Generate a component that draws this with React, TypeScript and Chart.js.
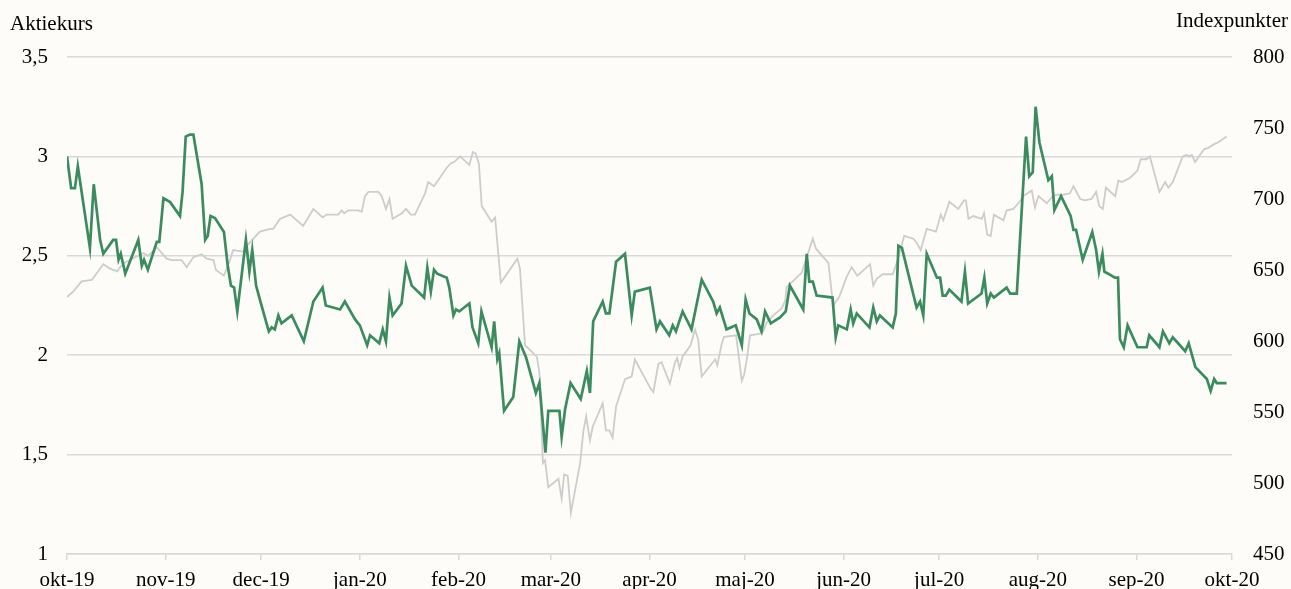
import React, { useEffect, useRef } from "react";
import { Chart, registerables } from "chart.js";

Chart.register(...registerables);

// x values: days since 1 Oct 2019
const monthTickDays = [0, 31, 61, 92, 123, 152, 183, 213, 244, 274, 305, 336, 366];
const monthTickLabels = [
  "okt-19", "nov-19", "dec-19", "jan-20", "feb-20", "mar-20", "apr-20",
  "maj-20", "jun-20", "jul-20", "aug-20", "sep-20", "okt-20",
];

const stockDays = [
  0, 1.3, 2.5, 3.4, 7.2, 8.4, 10.4, 11.4, 14.5, 15.4, 16.2, 16.9, 18.3, 22.4, 23.5, 24.2, 25.4, 28.2, 29,
  30.3, 32.4, 35.5, 36.3, 37.3, 38.6, 39.7, 42.3, 43.4, 44.2, 45.1, 46.5, 49.3, 50.5, 51.5, 52.5, 53.5,
  56.2, 57.3, 58.2, 59.4, 60.6, 63.4, 64.3, 65.3, 66.4, 67.4, 70.6, 74.4, 77.4, 80.3, 81.3, 85.8, 87.3,
  90.5, 92, 94.3, 95.2, 98.1, 99.2, 100.2, 101.3, 102.3, 105.1, 106.5, 108.3, 112.2, 113.2, 114.3, 115.3,
  116.3, 119.3, 120.1, 121.4, 122.2, 123.2, 126.4, 127.4, 129.2, 130.2, 133.4, 134.2, 135.2, 135.8, 137.3,
  140.2, 142.1, 144.2, 147.3, 148.4, 150.3, 151.2, 154.7, 155.4, 156.5, 158.2, 161.4, 163.3, 164.3, 165.3,
  168.3, 169.3, 170.4, 172.5, 175.3, 177.4, 178.4, 183.1, 185.2, 186.3, 189.2, 190.3, 191.3, 193.4, 196.2,
  199.4, 203, 204.1, 205.1, 207.2, 210.1, 212, 213.2, 214.4, 216.7, 218.2, 219.3, 221.1, 224, 225.8, 227.1,
  231.3, 232.4, 233.2, 234.3, 235.5, 240.5, 241.5, 242.3, 245, 246.2, 247, 248.1, 252.1, 253.3, 254.4,
  255.4, 259.4, 260.4, 261.2, 262.3, 266.9, 268, 269, 270.1, 273.3, 274.3, 275.1, 276.1, 277.2, 281, 282.1,
  283.1, 287.3, 288.2, 289.1, 290.2, 291.2, 295.2, 296.3, 298.4, 301.3, 302.3, 303.4, 304.3, 305.5, 308.3,
  309.4, 310.2, 312.3, 315.3, 316.2, 317, 319.1, 322.1, 323.3, 324.2, 325.3, 325.9, 327.1, 329.2, 330.2,
  330.8, 332, 333.2, 336.3, 339.2, 340, 343.2, 344.3, 346.3, 347.4, 351.3, 352.4, 354.5, 358.1, 359.3,
  360.4, 361.2, 364.3,
];
const stockPrice = [
  3.0, 2.84, 2.84, 2.95, 2.54, 2.86, 2.58, 2.51, 2.58, 2.58, 2.48, 2.51, 2.41, 2.58, 2.45, 2.48, 2.43, 2.57, 2.57,
  2.79, 2.77, 2.7, 2.82, 3.1, 3.11, 3.11, 2.86, 2.58, 2.6, 2.7, 2.69, 2.62, 2.45, 2.35, 2.34, 2.22,
  2.58, 2.42, 2.53, 2.35, 2.28, 2.12, 2.14, 2.13, 2.2, 2.16, 2.2, 2.07, 2.27, 2.34, 2.25, 2.23, 2.27,
  2.18, 2.15, 2.05, 2.1, 2.06, 2.13, 2.07, 2.29, 2.2, 2.26, 2.45, 2.35, 2.29, 2.44, 2.32, 2.43,
  2.41, 2.39, 2.34, 2.2, 2.23, 2.22, 2.26, 2.14, 2.06, 2.22, 2.04, 2.17, 1.98, 2.01, 1.72,
  1.79, 2.07, 1.99, 1.81, 1.86, 1.51, 1.72, 1.72, 1.59, 1.73, 1.86, 1.78, 1.92, 1.81, 2.17,
  2.27, 2.21, 2.21, 2.47, 2.51, 2.2, 2.32, 2.34, 2.13, 2.17, 2.1, 2.15, 2.12, 2.22, 2.13,
  2.38, 2.27, 2.21, 2.24, 2.13, 2.15, 2.05, 2.28, 2.21, 2.18, 2.12, 2.22, 2.16, 2.19, 2.22, 2.35,
  2.23, 2.51, 2.37, 2.37, 2.3, 2.29, 2.09, 2.15, 2.13, 2.23, 2.16, 2.21, 2.14, 2.24, 2.17,
  2.2, 2.14, 2.21, 2.55, 2.54, 2.24, 2.27, 2.2, 2.51, 2.39, 2.39, 2.3, 2.3, 2.33, 2.27, 2.42,
  2.26, 2.31, 2.39, 2.26, 2.31, 2.29, 2.34, 2.31, 2.31, 3.1, 2.9, 2.92, 3.25, 3.07, 2.88,
  2.9, 2.73, 2.8, 2.7, 2.63, 2.63, 2.48, 2.62, 2.53, 2.42, 2.51, 2.42, 2.41, 2.39, 2.39,
  2.08, 2.04, 2.15, 2.04, 2.04, 2.1, 2.04, 2.12, 2.06, 2.09, 2.02, 2.06, 1.94, 1.88, 1.82,
  1.88, 1.86, 1.86,
];

const indexDays = [
  0, 2, 4.6, 7.8, 11.4, 13.5, 15.8, 16.7, 18, 24, 25.5, 28.2, 31.3, 32.9, 36, 37.6, 39.7, 42.3, 43.9, 46,
  46.8, 49.3, 51.2, 52.2, 55.4, 56.5, 60.6, 63.8, 64.8, 66.9, 70.1, 74.2, 77.4, 80.3, 81.6, 85.2, 86.3,
  87.1, 88.4, 91.5, 92.6, 93.6, 94.7, 97.8, 98.9, 100.2, 101.3, 102.3, 105.2, 106.5, 108, 109.3, 112.5,
  113.5, 115.3, 119.3, 120.5, 121.6, 123.5, 126.4, 127.5, 128.4, 129.4, 130.3, 133.4, 134.5, 136.3, 141.5,
  142.3, 143.9, 147.6, 148.4, 149.5, 150.2, 151.2, 154.4, 155.4, 156.2, 157.3, 158.3, 161.2, 162.2, 163.1,
  164.3, 165.2, 168.3, 169.3, 170.4, 171.4, 172.5, 175.3, 176.3, 177.4, 178.4, 183.2, 184.2, 185.8, 186.8,
  189.4, 191, 191.7, 192.4, 193.4, 195.9, 197.3, 198.3, 199.4, 203.6, 204.3, 205.7, 206.4, 210.2, 212,
  212.7, 213.5, 214.6, 217.5, 218.8, 219.8, 221.9, 224.5, 225.6, 226.1, 230.8, 234.3, 235.3, 239.2, 240.7,
  242.6, 244.9, 246.5, 248.3, 252.3, 253.3, 254.4, 256.3, 259.4, 260.7, 263, 265.9, 267, 268.2, 270.1,
  273, 274.5, 275.3, 277.2, 280, 281.8, 282.4, 283.2, 284.7, 287.4, 288.1, 289.1, 290.2, 291.2, 294.2,
  295.2, 297.3, 298.9, 300.4, 303.1, 304.1, 305.2, 307.8, 309.7, 310.9, 313, 315.1, 316.2, 318.3, 319.8,
  321.9, 323.3, 324.3, 325.4, 326.4, 329.3, 330.3, 331.4, 334, 336.3, 337.3, 339.2, 340.2, 343.2, 345,
  346, 347.4, 350.5, 351.6, 352.6, 353.4, 354.4, 357.2, 358.5, 360.7, 361.7, 364.3,
];
const indexPoints = [
  631, 635, 642, 643, 654, 651, 649, 652, 655, 662, 660, 666, 658, 657, 657, 652, 659, 661, 658, 657,
  650, 646, 657, 664, 663, 667, 677, 679, 679, 686, 689, 681, 693, 687, 689, 689, 692,
  690, 692, 692, 691, 702, 705, 705, 702, 693, 700, 686, 690, 693, 689, 689, 704,
  712, 709, 722, 725, 726, 730, 724, 733, 732, 725, 695, 684, 687, 641, 658,
  651, 597, 589, 578, 514, 516, 497, 503, 489, 506, 505, 479, 514, 536, 547,
  530, 540, 556, 537, 537, 532, 554, 573, 574, 575, 587, 567, 564, 584, 585,
  570, 585, 588, 581, 589, 597, 608, 601, 575, 587, 583, 598, 603, 604, 572,
  576, 586, 604, 605, 607, 613, 618, 623, 628, 638, 648, 672, 665, 655, 625,
  631, 645, 652, 646, 654, 639, 644, 647, 647, 655, 674, 672, 669, 664, 679,
  677, 689, 685, 698, 693, 699, 699, 686, 688, 686, 690, 675, 674, 689, 685,
  692, 693, 697, 702, 706, 694, 702, 697, 702, 703, 703, 704, 709, 700, 699,
  700, 705, 695, 693, 708, 702, 713, 712, 715, 720, 728, 728, 730, 705, 712,
  708, 712, 730, 731, 730, 731, 726, 735, 736, 739, 740, 744,
];

const FONT_FAMILY = "'Liberation Serif', 'Times New Roman', Times, serif";
const BG = "#fdfcf8";
const GRID = "#d9d9d9";

export default function App() {
  const canvasRef = useRef<HTMLCanvasElement | null>(null);

  useEffect(() => {
    document.body.style.margin = "0";
    document.body.style.background = BG;
    const canvas = canvasRef.current;
    if (!canvas) return;

    const bgPlugin = {
      id: "bgAndTitles",
      beforeDraw(chart: any) {
        const ctx = chart.ctx;
        ctx.save();
        ctx.fillStyle = BG;
        ctx.fillRect(0, 0, chart.width, chart.height);
        ctx.restore();
      },
      afterDraw(chart: any) {
        const ctx = chart.ctx;
        ctx.save();
        ctx.fillStyle = "#000";
        ctx.font = `21px ${FONT_FAMILY}`;
        ctx.textBaseline = "alphabetic";
        ctx.textAlign = "left";
        ctx.fillText("Aktiekurs", 10, 29.5);
        ctx.fillText("Indexpunkter", 1176, 26.5);
        ctx.restore();
      },
    };

    const tickFont = { family: FONT_FAMILY, size: 21 };

    const chart = new Chart(canvas, {
      type: "line",
      data: {
        datasets: [
          {
            label: "Aktiekurs",
            data: stockDays.map((d, i) => ({ x: d, y: stockPrice[i] })),
            borderColor: "#3b8b5e",
            borderWidth: 2.7,
            pointRadius: 0,
            tension: 0,
            yAxisID: "y",
            order: 0,
          },
          {
            label: "Indeks",
            data: indexDays.map((d, i) => ({ x: d, y: indexPoints[i] })),
            borderColor: "#cdcdcd",
            borderWidth: 1.8,
            pointRadius: 0,
            tension: 0,
            yAxisID: "y2",
            order: 1,
          },
        ],
      },
      options: {
        responsive: false,
        animation: false,
        events: [],
        layout: { padding: { top: 57, left: 0, right: 0, bottom: 0 } },
        plugins: { legend: { display: false }, tooltip: { enabled: false }, title: { display: false } },
        scales: {
          x: {
            type: "linear",
            min: 0,
            max: 366,
            afterBuildTicks: (scale: any) => {
              scale.ticks = monthTickDays.map((v) => ({ value: v }));
            },
            afterFit: (scale: any) => {
              scale.height = 35;
            },
            ticks: {
              autoSkip: false,
              maxRotation: 0,
              minRotation: 0,
              padding: 8,
              color: "#000",
              font: tickFont,
              callback: (v: any) => {
                const i = monthTickDays.indexOf(Number(v));
                return i >= 0 ? monthTickLabels[i] : "";
              },
            },
            grid: { drawOnChartArea: false, color: GRID, tickLength: 6, lineWidth: 1.5 },
            border: { color: GRID, width: 1.5 },
          },
          y: {
            position: "left",
            min: 1,
            max: 3.5,
            afterFit: (scale: any) => {
              scale.width = 67;
            },
            ticks: {
              stepSize: 0.5,
              padding: 19,
              color: "#000",
              font: tickFont,
              callback: (v: any) => String(v).replace(".", ","),
            },
            grid: { color: GRID, lineWidth: 1.5, drawTicks: false },
            border: { display: false },
          },
          y2: {
            position: "right",
            min: 450,
            max: 800,
            afterFit: (scale: any) => {
              scale.width = 59;
            },
            ticks: {
              stepSize: 50,
              padding: 21,
              color: "#000",
              font: tickFont,
            },
            grid: { display: false, drawTicks: false },
            border: { display: false },
          },
        },
      },
      plugins: [bgPlugin],
    } as any);

    return () => chart.destroy();
  }, []);

  return (
    <div style={{ width: 1291, height: 589, background: BG }}>
      <canvas ref={canvasRef} width={1291} height={589} style={{ display: "block" }} />
    </div>
  );
}
